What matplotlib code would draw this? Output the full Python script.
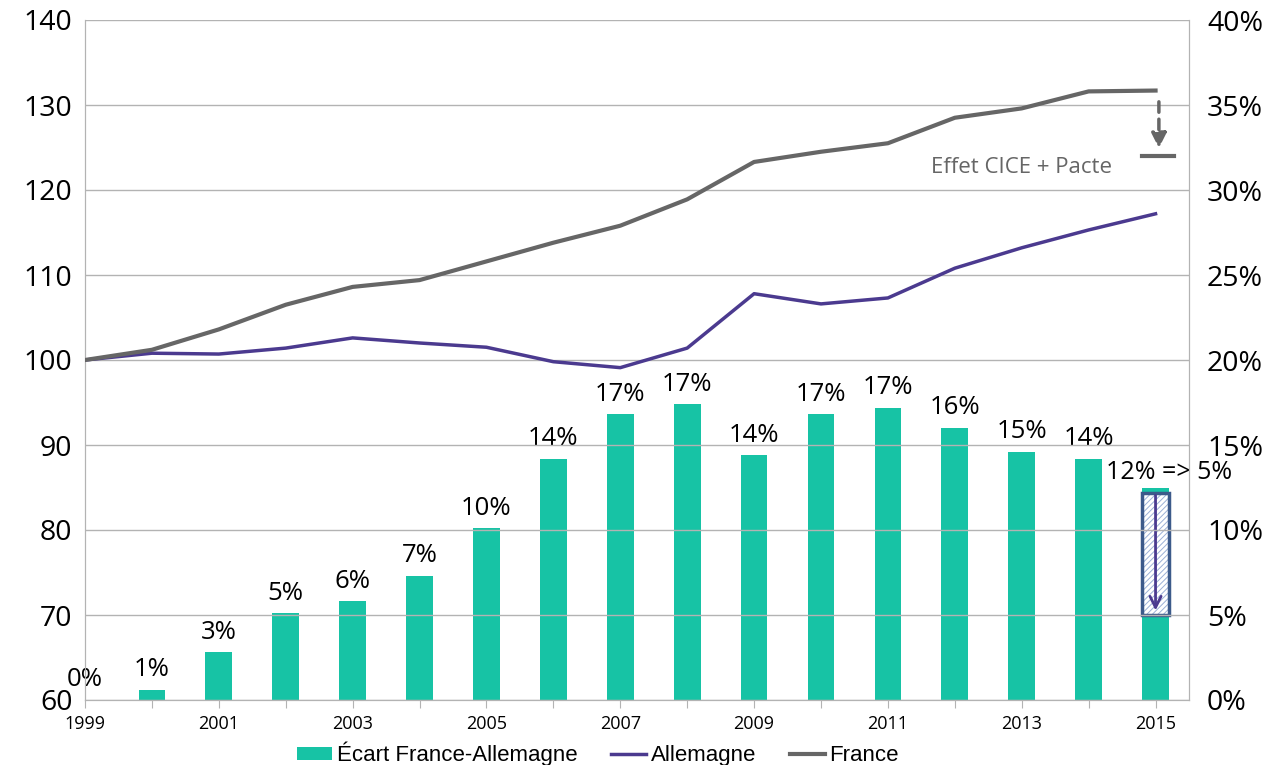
import numpy as np
import matplotlib.pyplot as plt
from matplotlib.patches import Rectangle

annees = list(range(1999, 2016))
ecart = [0.0, 0.6, 2.8, 5.1, 5.8, 7.3, 10.1, 14.2, 16.8, 17.4, 14.4, 16.8, 17.2, 16.0, 14.6, 14.2, 12.5]
etiquettes = ['0%', '1%', '3%', '5%', '6%', '7%', '10%', '14%', '17%', '17%', '14%', '17%', '17%', '16%', '15%', '14%', '12% => 5%']
france = [100, 101.2, 103.6, 106.5, 108.6, 109.4, 111.6, 113.8, 115.8, 118.9, 123.3, 124.5, 125.5, 128.5, 129.6, 131.6, 131.7]
allemagne = [100, 100.8, 100.7, 101.4, 102.6, 102.0, 101.5, 99.8, 99.1, 101.4, 107.8, 106.6, 107.3, 110.8, 113.2, 115.3, 117.2]
ecart_2015_cible = 5.0
france_2015_cible = 124.0

vert = '#17c3a5'
violet = '#4b3a8f'
gris = '#666666'
grille = '#b3b3b3'

plt.rcParams['font.family'] = ['Open Sans', 'DejaVu Sans']
plt.rcParams['hatch.linewidth'] = 0.7

fig = plt.figure(figsize=(12.72, 7.65), dpi=100)
ax = fig.add_axes([85/1272, 65/765, (1189-85)/1272, (700-20)/765])
ax2 = ax.twinx()

x = np.arange(len(annees))

# barres sur l'axe de droite
ax2.bar(x, ecart, width=0.4, color=vert, zorder=2, label='Écart France-Allemagne')
for i, (xi, v, t) in enumerate(zip(x, ecart, etiquettes)):
    if i == len(x) - 1:
        ax2.text(xi + 0.2, v + 0.15, t, ha='center', va='bottom', fontsize=18)
    else:
        ax2.text(xi, v + 0.45, t, ha='center', va='bottom', fontsize=18.5)
ax2.set_ylim(0, 40)
ax2.set_yticks(np.arange(0, 41, 5))
ax2.set_yticklabels([f'{v}%' for v in range(0, 41, 5)], fontsize=20.5)

# zone hachuree 2015
haut = ecart[-1] - ecart_2015_cible - 0.3
ax2.add_patch(Rectangle((x[-1] - 0.2, ecart_2015_cible), 0.4, haut,
                        facecolor='white', edgecolor='#9bb0d6', hatch='//////', lw=0, zorder=3))
ax2.add_patch(Rectangle((x[-1] - 0.2, ecart_2015_cible), 0.4, haut,
                        facecolor='none', edgecolor='#3c5a8a', lw=2.5, zorder=4))
ax2.annotate('', xy=(x[-1], ecart_2015_cible + 0.1), xytext=(x[-1], ecart[-1] - 0.3),
             arrowprops=dict(arrowstyle='->', color=violet, lw=2, mutation_scale=20), zorder=5)

# courbes sur l'axe de gauche
ax.plot(x, allemagne, color=violet, lw=2.5, label='Allemagne', zorder=3)
ax.plot(x, france, color=gris, lw=3, label='France', zorder=3)
ax.set_ylim(60, 140)
ax.set_yticks(range(60, 141, 10))
ax.tick_params(axis='y', labelsize=20.5, length=0, pad=9)
ax.grid(axis='y', color=grille, lw=1)
ax.set_zorder(ax2.get_zorder() + 1)
ax.patch.set_visible(False)
ax2.grid(False)

# effet CICE + Pacte
ax.annotate('', xy=(x[-1] + 0.05, france_2015_cible + 0.6), xytext=(x[-1] + 0.05, france[-1] - 1.0),
            arrowprops=dict(arrowstyle='-|>', color=gris, lw=2.5, ls=(0, (3, 2)), mutation_scale=22))
ax.plot([x[-1] - 0.2, x[-1] + 0.27], [france_2015_cible, france_2015_cible], color=gris, lw=3)
ax.text(x[-1] - 0.65, france_2015_cible - 1.3, 'Effet CICE + Pacte', ha='right', va='center',
        fontsize=16, color=gris)

ax.set_xlim(0, len(annees) - 0.5)
ax.set_xticks(x)
ax.set_xticklabels([str(a) if a % 2 == 1 else '' for a in annees], fontsize=13)
ax.tick_params(axis='x', length=6, color=grille, pad=5)
ax2.tick_params(axis='y', length=0, pad=13)

for a in (ax, ax2):
    a.spines['top'].set_visible(False)
    for s in ('left', 'right', 'bottom'):
        a.spines[s].set_color(grille)

h1, l1 = ax2.get_legend_handles_labels()
h2, l2 = ax.get_legend_handles_labels()
fig.legend(h1 + h2, l1 + l2, loc='center', bbox_to_anchor=(598/1272, 11/765), ncol=3,
           frameon=False, handlelength=1.6, handleheight=0.55, handletextpad=0.2,
           columnspacing=1.5, borderpad=0,
           prop={'family': ['Liberation Sans', 'DejaVu Sans'], 'size': 16})

fig.savefig('out.png', dpi=100)
